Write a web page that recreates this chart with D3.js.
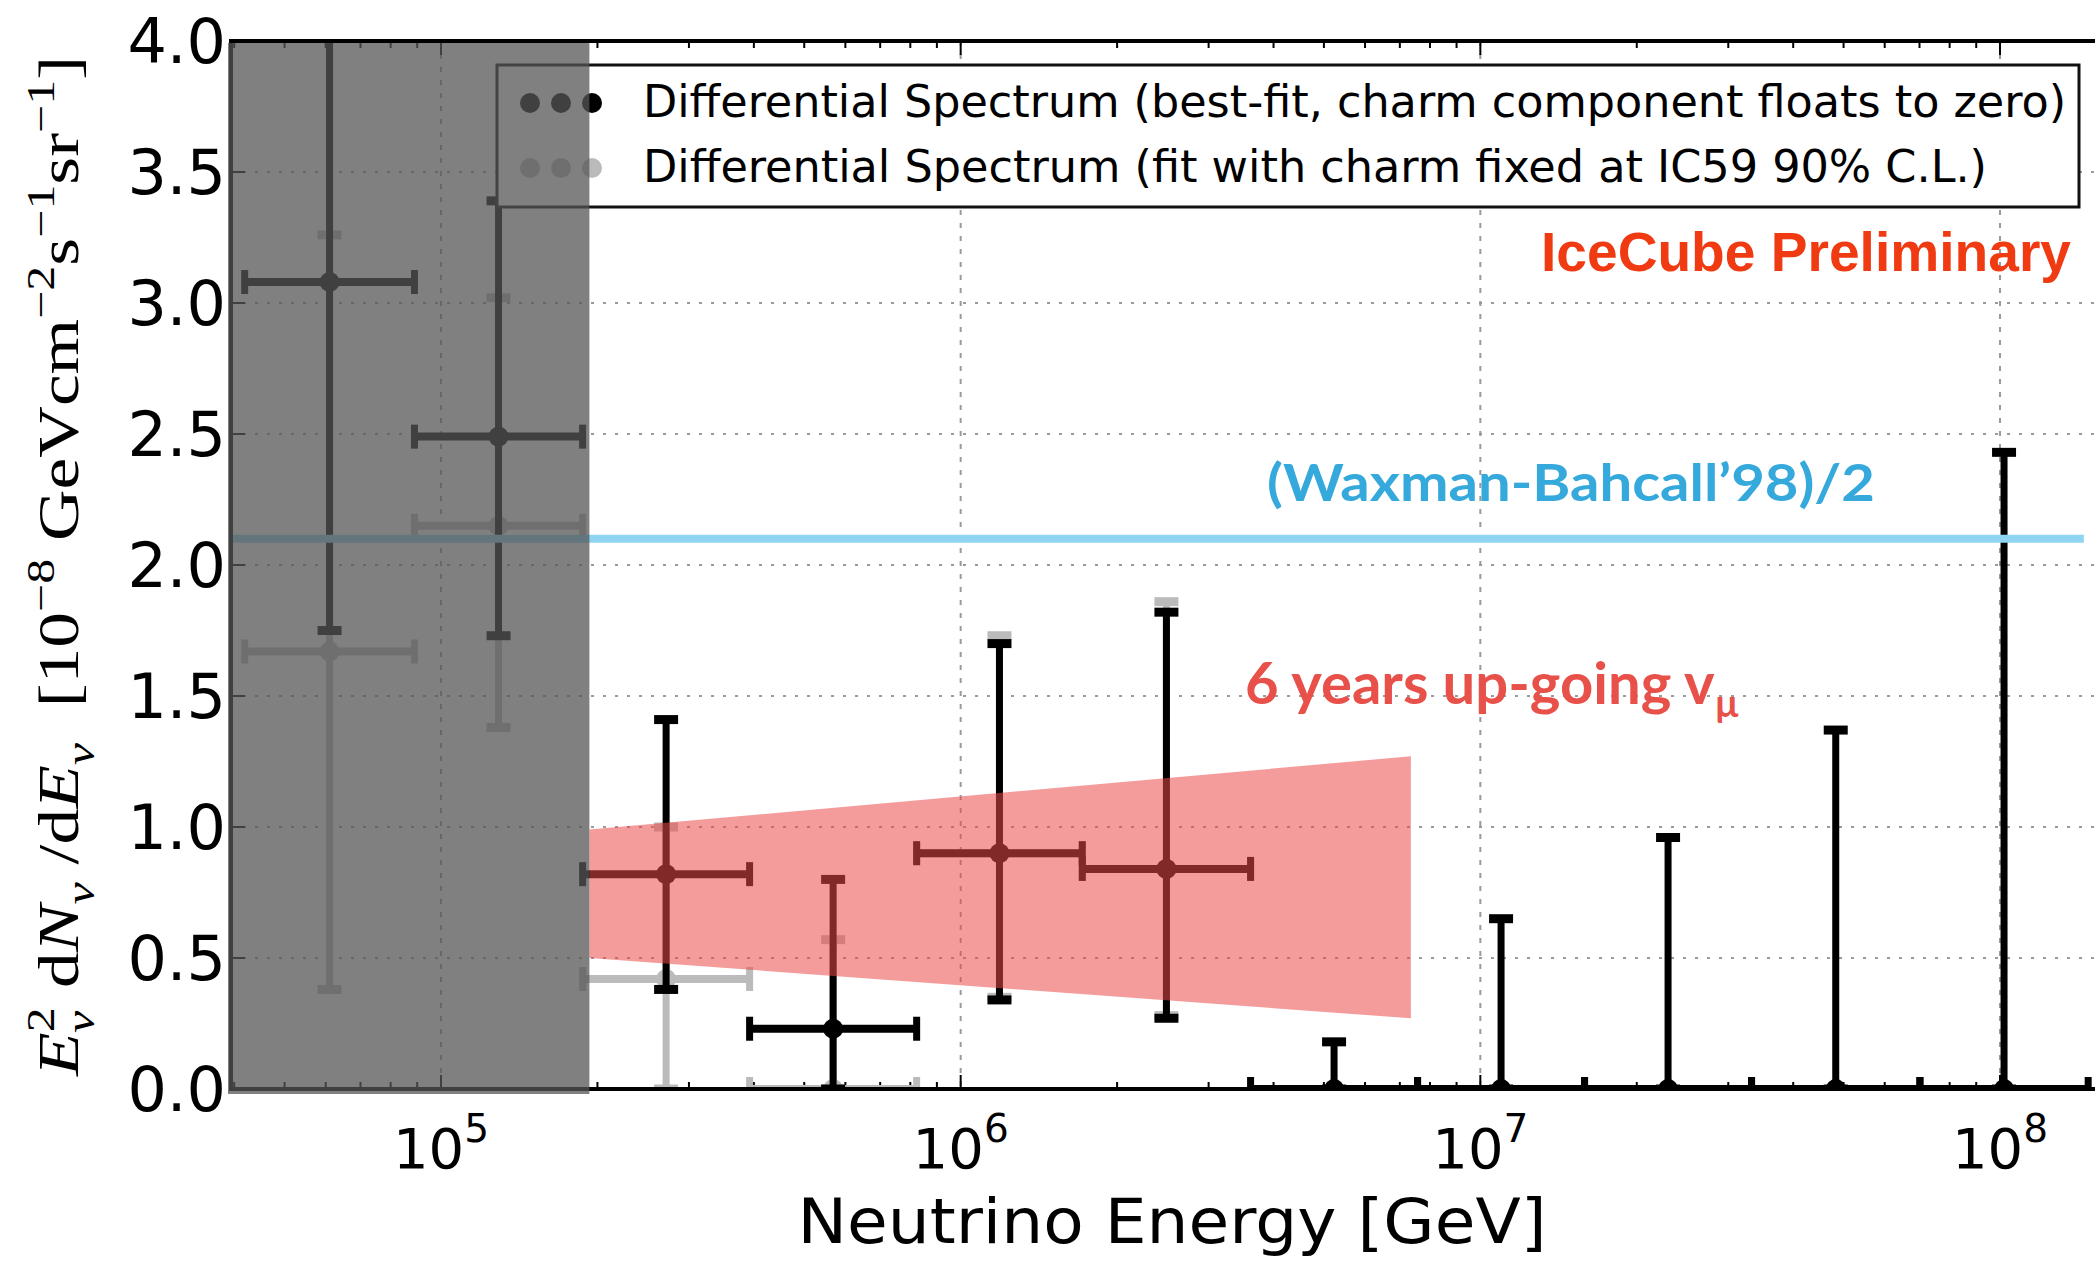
<!DOCTYPE html>
<html>
<head>
<meta charset="utf-8">
<title>Differential Spectrum</title>
<script src="https://d3js.org/d3.v7.min.js"></script>
<style>
    body { margin: 0; background: #fff; }
    svg { display: block; }
</style>
</head>
<body>
<div id="chart"></div>
<script>
// ---- data ----
// energy bin edges, GeV
const binEdges = [41900, 88900, 187300, 392500, 822800, 1714000, 3613000, 7572000, 15870000, 33260000, 70130000, 147800000];

// best-fit, charm component floats to zero  (units 1e-8 GeV cm^-2 s^-1 sr^-1)
const bestFitValue = [3.08, 2.49, 0.82, 0.23, 0.90, 0.84, 0, 0, 0, 0, 0];
const bestFitLower = [1.75, 1.73, 0.38, 0.00, 0.34, 0.27, 0, 0, 0, 0, 0];
const bestFitUpper = [4.40, 3.39, 1.41, 0.80, 1.70, 1.82, 0.18, 0.65, 0.96, 1.37, 2.43];

// fit with charm fixed at IC59 90% C.L. (first six bins)
const charmValue = [1.67, 2.15, 0.42, 0.00, 0.90, 0.84];
const charmLower = [0.38, 1.38, 0.00, 0.00, 0.35, 0.28];
const charmUpper = [3.26, 3.02, 1.00, 0.57, 1.73, 1.86];

// 6 years up-going numu band
const bandEnergy = [193000, 7350000];
const bandLower = [0.50, 0.27];
const bandUpper = [0.99, 1.27];

// (Waxman-Bahcall'98)/2
const wbLevel = 2.10;
const wbEnergyEnd = 145000000;

// shaded (excluded) low-energy region ends here
const shadeEnd = 193000;

const yTicks = [0, 0.5, 1.0, 1.5, 2.0, 2.5, 3.0, 3.5, 4.0];
const xDecades = [5, 6, 7, 8];
const legendLabels = [
    "Differential Spectrum (best-fit, charm component floats to zero)",
    "Differential Spectrum (fit with charm fixed at IC59 90% C.L.)"
];

// ---- layout ----
const W = 2095, H = 1263;
const plot = { left: 231, top: 41, right: 2095, bottom: 1089 };

const svg = d3.select("#chart").append("svg")
    .attr("width", W)
    .attr("height", H);

const x = d3.scaleLog().domain([1e5, 1e8]).range([441, 2000]);
const y = d3.scaleLinear().domain([0, 4]).range([plot.bottom, plot.top]);

svg.append("clipPath").attr("id", "plotClip")
    .append("rect")
    .attr("x", plot.left).attr("y", plot.top)
    .attr("width", plot.right - plot.left).attr("height", plot.bottom - plot.top);

const binCenter = d3.range(binEdges.length - 1).map(i => Math.sqrt(binEdges[i] * binEdges[i + 1]));

// grid lines
const grid = svg.append("g").attr("stroke", "#9a9a9a").attr("stroke-width", 2);
grid.selectAll("line.h").data(yTicks.filter(v => v > 0 && v < 4)).enter().append("line")
    .attr("x1", plot.left).attr("x2", plot.right)
    .attr("y1", d => y(d)).attr("y2", d => y(d))
    .attr("stroke-dasharray", "3,9");
grid.selectAll("line.v").data(xDecades).enter().append("line")
    .attr("x1", d => x(Math.pow(10, d))).attr("x2", d => x(Math.pow(10, d)))
    .attr("y1", plot.top).attr("y2", plot.bottom)
    .attr("stroke-dasharray", "5,8");

// minor / major ticks on the log axis (top and bottom, pointing inward)
const xTickVals = [];
for (let d = 4; d <= 8; d++) {
    for (let m = 1; m <= 9; m++) {
        const v = m * Math.pow(10, d);
        if (x(v) > plot.left && x(v) < plot.right) xTickVals.push({ v: v, major: m === 1 });
    }
}
const ticks = svg.append("g").attr("stroke", "#000").attr("stroke-width", 2);
ticks.selectAll("line.b").data(xTickVals).enter().append("line")
    .attr("x1", d => x(d.v)).attr("x2", d => x(d.v))
    .attr("y1", plot.bottom).attr("y2", d => plot.bottom - (d.major ? 14 : 7));
ticks.selectAll("line.t").data(xTickVals).enter().append("line")
    .attr("x1", d => x(d.v)).attr("x2", d => x(d.v))
    .attr("y1", plot.top).attr("y2", d => plot.top + (d.major ? 14 : 7));
ticks.selectAll("line.l").data(yTicks).enter().append("line")
    .attr("x1", plot.left).attr("x2", plot.left + 14)
    .attr("y1", d => y(d)).attr("y2", d => y(d));

// error bar helper
function errorBars(values, lowers, uppers, color) {
    const g = svg.append("g").attr("clip-path", "url(#plotClip)")
        .attr("stroke", color).attr("fill", color).attr("stroke-width", 7);
    values.forEach(function (v, i) {
        const cx = x(binCenter[i]), xl = x(binEdges[i]), xr = x(binEdges[i + 1]);
        const cy = y(v), yl = y(lowers[i]), yu = y(uppers[i]);
        g.append("line").attr("x1", cx).attr("x2", cx).attr("y1", yl).attr("y2", yu);
        g.append("line").attr("x1", cx - 12).attr("x2", cx + 12).attr("y1", yu).attr("y2", yu).attr("stroke-width", 9);
        g.append("line").attr("x1", cx - 12).attr("x2", cx + 12).attr("y1", yl).attr("y2", yl).attr("stroke-width", 9);
        g.append("line").attr("x1", xl).attr("x2", xr).attr("y1", cy).attr("y2", cy).attr("stroke-width", 8);
        g.append("line").attr("x1", xl).attr("x2", xl).attr("y1", cy - 12).attr("y2", cy + 12);
        g.append("line").attr("x1", xr).attr("x2", xr).attr("y1", cy - 12).attr("y2", cy + 12);
        g.append("circle").attr("cx", cx).attr("cy", cy).attr("r", 10).attr("stroke", "none");
    });
}

errorBars(charmValue, charmLower, charmUpper, "#bbbbbb");
errorBars(bestFitValue, bestFitLower, bestFitUpper, "#000000");

// 6 years up-going band
const bandPts = [
    [x(bandEnergy[0]), y(bandUpper[0])],
    [x(bandEnergy[1]), y(bandUpper[1])],
    [x(bandEnergy[1]), y(bandLower[1])],
    [x(bandEnergy[0]), y(bandLower[0])]
];
svg.append("path")
    .attr("d", d3.line()(bandPts) + "Z")
    .attr("fill", "rgb(235,73,73)")
    .attr("fill-opacity", 0.55);

// Waxman-Bahcall line
svg.append("line")
    .attr("x1", plot.left).attr("x2", x(wbEnergyEnd))
    .attr("y1", y(wbLevel)).attr("y2", y(wbLevel))
    .attr("stroke", "#8fd5f2").attr("stroke-width", 8);

// bottom and left frame
svg.append("line").attr("x1", plot.left).attr("x2", plot.right)
    .attr("y1", plot.bottom).attr("y2", plot.bottom)
    .attr("stroke", "#000").attr("stroke-width", 4);
svg.append("line").attr("x1", plot.left).attr("x2", plot.left)
    .attr("y1", plot.top).attr("y2", plot.bottom + 2)
    .attr("stroke", "#000").attr("stroke-width", 4);

// legend
const legend = svg.append("g");
legend.append("rect")
    .attr("x", 497).attr("y", 65).attr("width", 1582).attr("height", 142)
    .attr("fill", "#fff").attr("stroke", "#111").attr("stroke-width", 3);
const legendColors = ["#000000", "#bbbbbb"];
const legendRowY = [103, 168];
const legendTextLen = [1423, 1344];
legendLabels.forEach(function (label, i) {
    [530, 561, 592].forEach(function (cx) {
        legend.append("circle").attr("cx", cx).attr("cy", legendRowY[i]).attr("r", 10)
            .attr("fill", legendColors[i]);
    });
    legend.append("text")
        .attr("x", 643).attr("y", legendRowY[i] + 14)
        .attr("font-family", "DejaVu Sans Condensed, DejaVu Sans")
        .attr("font-size", 45)
        .attr("textLength", legendTextLen[i])
        .attr("lengthAdjust", "spacingAndGlyphs")
        .text(label);
});

// shaded low-energy region (drawn over everything below it)
svg.append("rect")
    .attr("x", plot.left - 3).attr("y", plot.top + 2)
    .attr("width", x(shadeEnd) - plot.left + 3)
    .attr("height", plot.bottom - plot.top + 3)
    .attr("fill", "#555").attr("fill-opacity", 0.75);

// top frame
svg.append("line").attr("x1", plot.left - 2).attr("x2", plot.right)
    .attr("y1", plot.top).attr("y2", plot.top)
    .attr("stroke", "#000").attr("stroke-width", 4);

// y tick labels
svg.append("g").selectAll("text").data(yTicks).enter().append("text")
    .attr("x", 226).attr("y", d => y(d))
    .attr("dy", "0.36em")
    .attr("text-anchor", "end")
    .attr("font-family", "DejaVu Sans")
    .attr("font-size", 62)
    .text(d => d.toFixed(1));

// x tick labels 10^n
const xLab = svg.append("g").selectAll("text").data(xDecades).enter().append("text")
    .attr("x", d => x(Math.pow(10, d)))
    .attr("y", 1168)
    .attr("text-anchor", "middle")
    .attr("font-family", "DejaVu Sans")
    .attr("font-size", 56);
xLab.append("tspan").text("10");
xLab.append("tspan").attr("dy", -26).attr("font-size", 39).text(d => d);

// x axis title
svg.append("text")
    .attr("x", 1172).attr("y", 1243)
    .attr("text-anchor", "middle")
    .attr("font-family", "DejaVu Sans")
    .attr("font-size", 62)
    .attr("textLength", 749)
    .attr("lengthAdjust", "spacingAndGlyphs")
    .text("Neutrino Energy [GeV]");

// y axis title (math text)
function mathText(sel, parts, fs) {
    let cur = 0;
    parts.forEach(function (p) {
        const target = p[2] === "sup" ? -0.42 * fs : p[2] === "sub" ? 0.28 * fs : 0;
        sel.append("tspan")
            .attr("dy", target - cur)
            .attr("dx", p[3] || 0)
            .attr("font-size", p[2] === "b" ? fs : 0.7 * fs)
            .attr("font-style", p[1] === "it" ? "italic" : "normal")
            .text(p[0]);
        cur = target;
    });
}
const yFs = 56;
const yTitle = svg.append("text")
    .attr("transform", "translate(78,566) rotate(-90)")
    .attr("text-anchor", "middle")
    .attr("font-family", "Liberation Serif")
    .attr("textLength", 1020)
    .attr("lengthAdjust", "spacingAndGlyphs")
    .style("white-space", "pre");
mathText(yTitle, [
    ["E", "it", "b"], ["2", "rm", "sup"], ["\u03bd", "it", "sub", -0.36 * yFs],
    [" d", "rm", "b", 4], ["N", "it", "b"], ["\u03bd", "it", "sub"],
    [" /d", "rm", "b"], ["E", "it", "b"], ["\u03bd", "it", "sub"],
    ["  [10", "rm", "b"], ["\u22128", "rm", "sup"],
    [" GeVcm", "rm", "b"], ["\u22122", "rm", "sup"],
    ["s", "rm", "b"], ["\u22121", "rm", "sup"],
    ["sr", "rm", "b"], ["\u22121", "rm", "sup"], ["]", "rm", "b"]
], yFs);

// annotations
svg.append("text")
    .attr("x", 1541).attr("y", 271)
    .attr("font-family", "Liberation Sans").attr("font-weight", "bold")
    .attr("font-size", 56).attr("fill", "#f03a12")
    .attr("textLength", 530).attr("lengthAdjust", "spacingAndGlyphs")
    .text("IceCube Preliminary");

svg.append("text")
    .attr("x", 1267).attr("y", 501)
    .attr("font-family", "Lato").attr("font-weight", "bold")
    .attr("font-size", 52).attr("fill", "#35a8dc")
    .attr("textLength", 608).attr("lengthAdjust", "spacingAndGlyphs")
    .text("(Waxman-Bahcall\u201998)/2");

const nuText = svg.append("text")
    .attr("x", 1245).attr("y", 704)
    .attr("font-family", "Lato").attr("font-weight", "bold")
    .attr("font-size", 58).attr("fill", "#e8504a");
nuText.append("tspan").text("6 years up-going v");
nuText.append("tspan").attr("dy", 13).attr("font-size", 38).text("\u00b5");
</script>
</body>
</html>
